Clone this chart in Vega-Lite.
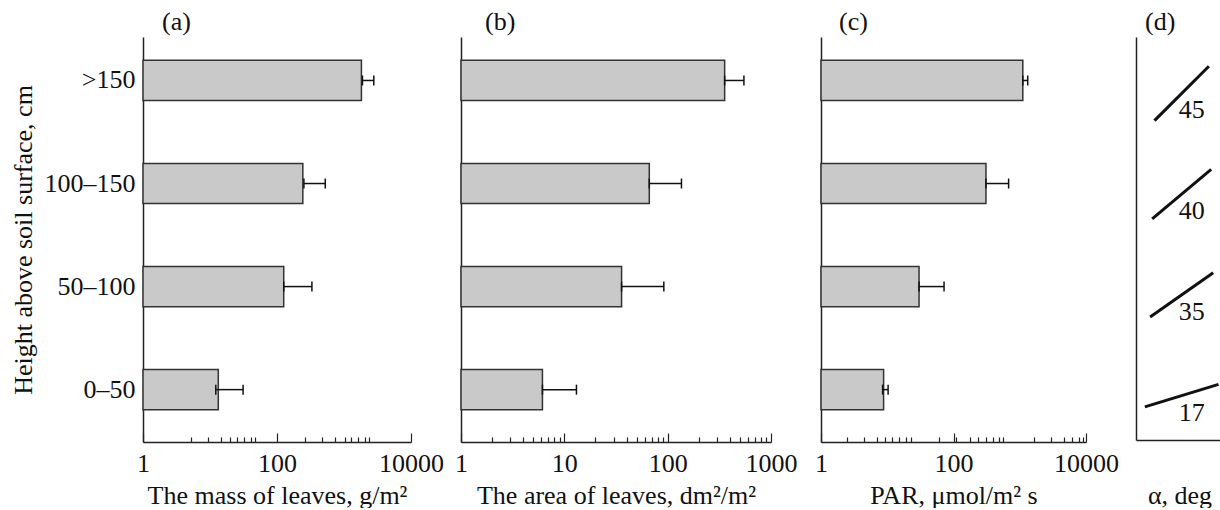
{
  "$schema": "https://vega.github.io/schema/vega-lite/v6.json",
  "background": "white",
  "padding": {"left": 10, "top": 9, "right": 0, "bottom": 0},
  "config": {
    "font": "Liberation Serif",
    "view": {"stroke": null},
    "axis": {"labelFont": "Liberation Serif", "titleFont": "Liberation Serif", "labelFontSize": 26, "titleFontSize": 26, "labelColor": "#111", "titleColor": "#111", "titleFontWeight": "normal", "domainColor": "#222", "domainWidth": 1.5, "tickColor": "#222", "tickWidth": 1.2, "grid": false},
    "title": {"font": "Liberation Serif", "fontSize": 26, "fontWeight": "normal", "anchor": "start", "frame": "group", "color": "#111", "offset": 2, "dx": 19}
  },
  "data": {"values": [
    {"height": ">150", "mass": 1820, "mass_lo": 1885, "mass_hi": 2786, "area": 356, "area_lo": 356, "area_hi": 547, "par": 1112, "par_lo": 1112, "par_hi": 1319, "alpha": 45},
    {"height": "100–150", "mass": 243, "mass_lo": 252, "mass_hi": 525, "area": 66.4, "area_lo": 66.4, "area_hi": 136, "par": 309, "par_lo": 309, "par_hi": 679, "alpha": 40},
    {"height": "50–100", "mass": 126, "mass_lo": 126, "mass_hi": 332, "area": 35.8, "area_lo": 35.8, "area_hi": 91.8, "par": 30.2, "par_lo": 30.2, "par_hi": 72, "alpha": 35},
    {"height": "0–50", "mass": 13.3, "mass_lo": 12.2, "mass_hi": 31.2, "area": 6.14, "area_lo": 6.14, "area_hi": 13.1, "par": 8.81, "par_lo": 8.51, "par_hi": 10.3, "alpha": 17}
  ]},
  "bounds": "flush",
  "spacing": 50,
  "resolve": {"scale": {"x": "independent", "y": "independent"}},
  "hconcat": [
    {
      "width": 268, "height": 405,
      "title": {"text": "(a)", "dx": 19, "frame": "group"},
      "encoding": {
        "y": {"field": "height", "type": "nominal", "sort": [">150", "100–150", "50–100", "0–50"], "scale": {"paddingInner": 0.61, "paddingOuter": 0.27, "align": 0.42}, "title": "Height above soil surface, cm", "axis": {"ticks": false, "labelPadding": 8, "titlePadding": 8}}
      },
      "layer": [
        {"mark": {"type": "bar", "fill": "#c8c9c8", "stroke": "#333", "strokeWidth": 1.5},
         "encoding": {"x": {"field": "mass", "type": "quantitative", "title": "The mass of leaves, g/m²", "scale": {"type": "log", "domain": [1, 10000]},
           "axis": {"values": [1, 5.25, 9.3, 14.8, 19.7, 25.4, 32, 40.7, 47.2, 100, 260, 469, 734, 1023, 1288, 1625, 2042, 2377, 10000],
             "labelExpr": "datum.value == 1 || datum.value == 100 || datum.value == 10000 ? '' + datum.value : ''",
             "labelOverlap": false, "labelFlush": false, "labelBound": false, "labelPadding": 17, "titlePadding": 2,
             "tickSize": {"condition": {"test": "datum.value == 1 || datum.value == 100 || datum.value == 10000", "value": -9}, "value": -5}}},
           "x2": {"datum": 1}}},
        {"mark": {"type": "rule", "strokeWidth": 1.5, "color": "#111"},
         "encoding": {"x": {"field": "mass_lo", "type": "quantitative", "title": "The mass of leaves, g/m²"}, "x2": {"field": "mass_hi"}}},
        {"mark": {"type": "tick", "size": 10, "thickness": 1.5, "color": "#111", "opacity": 1},
         "encoding": {"x": {"field": "mass_hi", "type": "quantitative", "title": "The mass of leaves, g/m²"}}},
        {"mark": {"type": "tick", "size": 10, "thickness": 1.5, "color": "#111", "opacity": 1},
         "encoding": {"x": {"field": "mass_lo", "type": "quantitative", "title": "The mass of leaves, g/m²"}}}
      ]
    },
    {
      "width": 310, "height": 405,
      "title": {"text": "(b)", "dx": 24},
      "encoding": {
        "y": {"field": "height", "type": "nominal", "sort": [">150", "100–150", "50–100", "0–50"], "scale": {"paddingInner": 0.61, "paddingOuter": 0.27, "align": 0.42}, "title": null, "axis": {"ticks": false, "labels": false}}
      },
      "layer": [
        {"mark": {"type": "bar", "fill": "#c8c9c8", "stroke": "#333", "strokeWidth": 1.5},
         "encoding": {"x": {"field": "area", "type": "quantitative", "title": "The area of leaves, dm²/m²", "scale": {"type": "log", "domain": [1, 1000]},
           "axis": {"values": [1, 2, 3, 4, 5, 6, 7, 8, 9, 10, 20, 30, 40, 50, 60, 70, 80, 90, 100, 200, 300, 400, 500, 600, 700, 800, 900, 1000],
             "labelExpr": "datum.value == 1 || datum.value == 10 || datum.value == 100 || datum.value == 1000 ? '' + datum.value : ''",
             "labelOverlap": false, "labelFlush": false, "labelBound": false, "labelPadding": 17, "titlePadding": 2,
             "tickSize": {"condition": {"test": "datum.value == 1 || datum.value == 10 || datum.value == 100 || datum.value == 1000", "value": -9}, "value": -5}}},
           "x2": {"datum": 1}}},
        {"mark": {"type": "rule", "strokeWidth": 1.5, "color": "#111"},
         "encoding": {"x": {"field": "area_lo", "type": "quantitative", "title": "The area of leaves, dm²/m²"}, "x2": {"field": "area_hi"}}},
        {"mark": {"type": "tick", "size": 10, "thickness": 1.5, "color": "#111", "opacity": 1},
         "encoding": {"x": {"field": "area_hi", "type": "quantitative", "title": "The area of leaves, dm²/m²"}}},
        {"mark": {"type": "tick", "size": 10, "thickness": 1.5, "color": "#111", "opacity": 1},
         "encoding": {"x": {"field": "area_lo", "type": "quantitative", "title": "The area of leaves, dm²/m²"}}}
      ]
    },
    {
      "width": 265, "height": 405,
      "title": {"text": "(c)", "dx": 18},
      "encoding": {
        "y": {"field": "height", "type": "nominal", "sort": [">150", "100–150", "50–100", "0–50"], "scale": {"paddingInner": 0.61, "paddingOuter": 0.27, "align": 0.42}, "title": null, "axis": {"ticks": false, "labels": false}}
      },
      "layer": [
        {"mark": {"type": "bar", "fill": "#c8c9c8", "stroke": "#333", "strokeWidth": 1.5},
         "encoding": {"x": {"field": "par", "type": "quantitative", "title": "PAR, μmol/m² s", "scale": {"type": "log", "domain": [1, 10000]},
           "axis": {"values": [1, 2.48, 4.4, 6.93, 9.34, 12, 15.1, 19, 22.5, 60.7, 100, 110, 179, 238, 306, 398, 482, 561, 1619, 2930, 4615, 6150, 7710, 9140, 10000],
             "labelExpr": "datum.value == 1 || datum.value == 100 || datum.value == 10000 ? '' + datum.value : ''",
             "labelOverlap": false, "labelFlush": false, "labelBound": false, "labelPadding": 17, "titlePadding": 2,
             "tickSize": {"condition": {"test": "datum.value == 1 || datum.value == 100 || datum.value == 10000", "value": -9}, "value": -5}}},
           "x2": {"datum": 1}}},
        {"mark": {"type": "rule", "strokeWidth": 1.5, "color": "#111"},
         "encoding": {"x": {"field": "par_lo", "type": "quantitative", "title": "PAR, μmol/m² s"}, "x2": {"field": "par_hi"}}},
        {"mark": {"type": "tick", "size": 10, "thickness": 1.5, "color": "#111", "opacity": 1},
         "encoding": {"x": {"field": "par_hi", "type": "quantitative", "title": "PAR, μmol/m² s"}}},
        {"mark": {"type": "tick", "size": 10, "thickness": 1.5, "color": "#111", "opacity": 1},
         "encoding": {"x": {"field": "par_lo", "type": "quantitative", "title": "PAR, μmol/m² s"}}}
      ]
    },
    {
      "width": 87, "height": 403,
      "title": {"text": "(d)", "dx": 9},
      "encoding": {
        "y": {"field": "height", "type": "nominal", "sort": [">150", "100–150", "50–100", "0–50"], "scale": {"paddingInner": 0.61, "paddingOuter": 0.27, "align": 0.56}, "title": null, "axis": {"ticks": false, "labels": false}},
        "x": {"datum": 0, "type": "quantitative", "scale": {"domain": [-1.05, 0.95]}, "axis": {"title": "α, deg", "ticks": false, "labels": false, "titlePadding": 42}}
      },
      "layer": [
        {"mark": {"type": "point", "shape": "M-1,0L1,0", "filled": false, "stroke": "#111", "strokeWidth": 3, "size": 5929, "opacity": 1, "strokeCap": "butt"},
         "encoding": {"angle": {"field": "alpha", "type": "quantitative", "scale": {"domain": [0, 90], "range": [360, 270]}}}},
        {"mark": {"type": "text", "dx": 10, "dy": 17, "fontSize": 26, "font": "Liberation Serif", "color": "#111", "align": "center", "baseline": "middle"},
         "encoding": {"text": {"field": "alpha", "type": "quantitative"}}}
      ]
    }
  ]
}
